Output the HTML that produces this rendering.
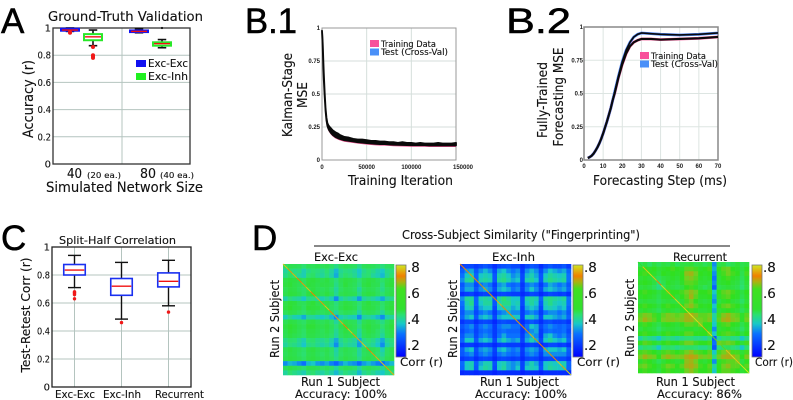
<!DOCTYPE html>
<html>
<head>
<meta charset="utf-8">
<title>Model validation figure</title>
<style>
html,body{margin:0;padding:0;background:#fff;width:793px;height:400px;overflow:hidden}
svg{display:block;filter:blur(.35px)}
text{font-family:"DejaVu Sans","Liberation Sans",sans-serif;fill:#111;stroke:#111;stroke-width:.12}
.big{font-family:"Liberation Sans",sans-serif;font-size:35px;fill:#000;stroke:#000;stroke-width:.5}
.small{font-family:"Liberation Sans",sans-serif;font-size:6px;font-weight:bold;fill:#222;stroke:none}
</style>
</head>
<body>
<svg id="fig" width="793" height="400" viewBox="0 0 793 400" xmlns="http://www.w3.org/2000/svg">
<defs>
<linearGradient id="jet" x1="0" y1="1" x2="0" y2="0">
<stop offset="0" stop-color="#0000ff"/><stop offset=".25" stop-color="#0a70ff"/><stop offset=".36" stop-color="#18c8c8"/>
<stop offset=".46" stop-color="#2be070"/><stop offset=".52" stop-color="#30e030"/><stop offset=".74" stop-color="#40e020"/>
<stop offset=".82" stop-color="#b0b010"/><stop offset=".88" stop-color="#f08000"/><stop offset="1" stop-color="#d0e820"/>
</linearGradient>
</defs>
<g id="layer"></g>

<text class="big" x="1" y="33">A</text>
<text class="big" x="245" y="33" textLength="52" lengthAdjust="spacingAndGlyphs">B.1</text>
<text class="big" x="506" y="33" textLength="65" lengthAdjust="spacingAndGlyphs">B.2</text>
<text class="big" x="1" y="250">C</text>
<text class="big" x="252" y="250">D</text>

<text x="48" y="21" font-size="13" textLength="155" lengthAdjust="spacingAndGlyphs">Ground-Truth Validation</text>
<text x="0" y="0" font-size="14" text-anchor="middle" textLength="78" lengthAdjust="spacingAndGlyphs" transform="translate(33 99) rotate(-90)">Accuracy (r)</text>
<text x="67" y="178" font-size="13" textLength="15" lengthAdjust="spacingAndGlyphs">40</text>
<text x="87" y="178" font-size="8" textLength="34" lengthAdjust="spacingAndGlyphs">(20 ea.)</text>
<text x="140" y="178" font-size="13" textLength="16" lengthAdjust="spacingAndGlyphs">80</text>
<text x="160" y="178" font-size="8" textLength="34" lengthAdjust="spacingAndGlyphs">(40 ea.)</text>
<text x="46" y="192" font-size="14" textLength="157" lengthAdjust="spacingAndGlyphs">Simulated Network Size</text>

<text x="0" y="0" font-size="13" text-anchor="middle" textLength="84" lengthAdjust="spacingAndGlyphs" transform="translate(292 95) rotate(-90)">Kalman-Stage</text>
<text x="0" y="0" font-size="13" text-anchor="middle" textLength="26" lengthAdjust="spacingAndGlyphs" transform="translate(307 95) rotate(-90)">MSE</text>
<text x="348" y="185" font-size="13" textLength="105" lengthAdjust="spacingAndGlyphs">Training Iteration</text>

<text x="0" y="0" font-size="13" text-anchor="middle" textLength="76" lengthAdjust="spacingAndGlyphs" transform="translate(547 100) rotate(-90)">Fully-Trained</text>
<text x="0" y="0" font-size="13" text-anchor="middle" textLength="99" lengthAdjust="spacingAndGlyphs" transform="translate(563 97) rotate(-90)">Forecasting MSE</text>
<text x="593" y="185" font-size="13" textLength="134" lengthAdjust="spacingAndGlyphs">Forecasting Step (ms)</text>

<text x="59" y="244" font-size="11" textLength="117" lengthAdjust="spacingAndGlyphs">Split-Half Correlation</text>
<text x="0" y="0" font-size="12" text-anchor="middle" textLength="115" lengthAdjust="spacingAndGlyphs" transform="translate(30 315) rotate(-90)">Test-Retest Corr (r)</text>

<text x="402" y="239" font-size="12" textLength="238" lengthAdjust="spacingAndGlyphs">Cross-Subject Similarity ("Fingerprinting")</text>
<line x1="314" y1="246" x2="730" y2="246" stroke="#111" stroke-width="1"/>
<text x="314" y="261" font-size="11.5" textLength="44" lengthAdjust="spacingAndGlyphs">Exc-Exc</text>
<text x="492" y="261" font-size="11.5" textLength="43" lengthAdjust="spacingAndGlyphs">Exc-Inh</text>
<text x="673" y="261" font-size="11.5" textLength="54" lengthAdjust="spacingAndGlyphs">Recurrent</text>

<text x="0" y="0" font-size="12" text-anchor="middle" textLength="78" lengthAdjust="spacingAndGlyphs" transform="translate(279 319) rotate(-90)">Run 2 Subject</text>
<text x="0" y="0" font-size="12" text-anchor="middle" textLength="78" lengthAdjust="spacingAndGlyphs" transform="translate(457 319) rotate(-90)">Run 2 Subject</text>
<text x="0" y="0" font-size="12" text-anchor="middle" textLength="78" lengthAdjust="spacingAndGlyphs" transform="translate(634 318) rotate(-90)">Run 2 Subject</text>

<text x="301" y="386" font-size="12" textLength="79" lengthAdjust="spacingAndGlyphs">Run 1 Subject</text>
<text x="480" y="386" font-size="12" textLength="79" lengthAdjust="spacingAndGlyphs">Run 1 Subject</text>
<text x="656" y="386" font-size="12" textLength="79" lengthAdjust="spacingAndGlyphs">Run 1 Subject</text>
<text x="295" y="398" font-size="11.5" textLength="92" lengthAdjust="spacingAndGlyphs">Accuracy: 100%</text>
<text x="475" y="398" font-size="11.5" textLength="92" lengthAdjust="spacingAndGlyphs">Accuracy: 100%</text>
<text x="657" y="398" font-size="11.5" textLength="85" lengthAdjust="spacingAndGlyphs">Accuracy: 86%</text>
<text x="400" y="366" font-size="11.5" textLength="43" lengthAdjust="spacingAndGlyphs">Corr (r)</text>
<text x="577" y="366" font-size="11.5" textLength="43" lengthAdjust="spacingAndGlyphs">Corr (r)</text>
<text x="755" y="366" font-size="11.5" textLength="38" lengthAdjust="spacingAndGlyphs">Corr (r)</text>
</svg>

<script>
/* ---------- Panel A data ---------- */
const aTicks = [0, 0.2, 0.4, 0.6, 0.8, 1];
const aGroups = [0, 0, 1, 1];
const aSeries = [0, 1, 0, 1];
const aQ1 = [0.98, 0.91, 0.97, 0.87];
const aQ3 = [0.995, 0.955, 0.982, 0.895];
const aMedian = [0.985, 0.935, 0.975, 0.885];
const aWhiskerLow = [0.975, 0.87, 0.965, 0.855];
const aWhiskerHigh = [1, 0.985, 0.995, 0.915];
const aOutliers = [[0.965, 0.97], [0.86, 0.80, 0.79, 0.78], [], []];
const aLegend = ["Exc-Exc", "Exc-Inh"];

/* ---------- Panel B.1 data ---------- */
const b1XTicks = [0, 50000, 100000, 150000];
const b1YTicks = [0, 0.25, 0.5, 0.75, 1];
const b1Iter = [0,500,1000,1500,2000,3000,4000,5000,6000,7000,8000,10000,12000,15000,18000,20000,25000,30000,35000,40000,45000,50000,55000,60000,65000,70000,75000,80000,85000,90000,95000,100000,105000,110000,115000,120000,125000,130000,135000,140000,145000,150000];
const b1Upper = [.98,.93,.85,.75,.66,.51,.39,.32,.28,.265,.255,.24,.225,.21,.2,.19,.175,.17,.16,.155,.155,.15,.145,.145,.14,.14,.135,.135,.13,.135,.13,.13,.125,.13,.125,.125,.125,.13,.125,.125,.125,.13];
const b1Lower = [.97,.9,.81,.71,.61,.48,.37,.3,.26,.24,.225,.205,.19,.175,.165,.16,.15,.145,.14,.135,.132,.128,.125,.122,.12,.12,.118,.116,.115,.114,.113,.112,.112,.112,.112,.11,.11,.11,.11,.11,.11,.11];

/* ---------- Panel B.2 data ---------- */
const b2XTicks = [0, 10, 20, 30, 40, 50, 60, 70];
const b2YTicks = [0, 0.25, 0.5, 0.75, 1];
const b2Step = [2,3,4,5,6,7,8,9,10,12,14,15,16,18,20,22,24,25,26,28,30,35,40,50,60,70];
const b2Train = [.015,.022,.032,.048,.07,.095,.125,.16,.2,.29,.39,.45,.5,.62,.72,.8,.855,.87,.885,.9,.91,.91,.905,.91,.915,.925];
const b2Test = [.015,.022,.032,.048,.07,.095,.125,.16,.2,.29,.39,.45,.51,.63,.74,.825,.885,.905,.925,.945,.955,.95,.945,.94,.945,.955];
const b2Legend = ["Training Data", "Test (Cross-Val)"];

/* ---------- Panel C data ---------- */
const cTicks = [0, 0.2, 0.4, 0.6, 0.8, 1];
const cCategories = ["Exc-Exc", "Exc-Inh", "Recurrent"];
const cQ1 = [0.80, 0.655, 0.715];
const cQ3 = [0.875, 0.775, 0.815];
const cMedian = [0.835, 0.72, 0.755];
const cWhiskerLow = [0.71, 0.485, 0.58];
const cWhiskerHigh = [0.94, 0.89, 0.905];
const cOutliers = [[0.68, 0.675, 0.67, 0.66, 0.63], [0.46], [0.535]];

/* ---------- Panel D data (correlation x 100) ---------- */
const colorbarTicks = [0.2, 0.4, 0.6, 0.8];
const excExcDiagonal = [78,74,76,72,74,78,72,76,74,78,72,74,76,72,78,74,76,78,72,74,76,78,74,76];
const excInhDiagonal = [72,70,74,72,68,74,70,72,76,70,72,68,74,72,70,76,68,72,74,70,72,78,74,80];
const recurrentDiagonal = [54,78,80,78,72,80,78,76,80,78,80,82,80,78,76,80,60,62,60,78,80,78,80,82];
const excExcMatrix = [
[44,48,47,46,42,47,46,48,46,47,44,40,45,47,46,45,40,46,47,46,44,41,45,46],
[38,42,40,41,36,40,42,41,39,42,38,33,39,41,40,38,34,40,42,40,37,34,40,41],
[40,44,42,38,36,42,44,40,38,41,37,32,40,43,41,39,35,41,42,38,36,33,39,42],
[49,51,50,48,45,50,51,49,48,50,46,41,47,50,49,47,42,48,50,49,46,43,48,50],
[50,52,49,47,45,51,50,48,49,49,47,40,46,51,48,46,41,49,51,48,47,41,49,51],
[47,50,49,46,44,48,50,47,46,48,44,38,45,48,47,45,38,46,48,47,44,40,46,48],
[48,51,50,48,44,50,51,49,47,50,46,39,47,49,48,47,40,48,50,49,45,42,47,49],
[37,41,39,38,34,40,41,38,36,39,36,30,37,40,38,36,31,38,40,38,35,32,38,40],
[49,52,51,47,46,50,52,48,48,49,46,41,47,50,49,47,42,48,51,48,47,43,48,50],
[50,53,50,49,45,52,51,50,47,50,45,42,48,51,50,48,41,49,50,49,46,42,49,51],
[46,49,48,45,42,47,49,46,45,47,44,38,44,47,46,44,37,45,47,46,43,38,45,47],
[35,39,36,35,32,38,38,36,34,37,33,30,36,38,36,35,30,37,38,36,33,30,36,38],
[47,50,49,46,44,49,50,47,46,48,44,38,45,49,47,46,39,47,49,47,44,40,46,49],
[50,53,51,48,46,52,52,49,48,50,46,41,48,51,49,47,41,49,51,48,47,42,48,51],
[48,52,50,47,44,50,50,48,46,49,45,39,46,50,48,46,38,47,50,48,44,40,47,49],
[47,50,48,46,43,49,49,47,46,47,43,38,45,48,47,45,37,46,48,46,43,38,46,48],
[40,43,42,39,36,42,43,40,39,41,37,32,39,42,40,38,32,40,42,40,36,32,39,41],
[38,41,40,38,34,40,41,39,37,39,35,30,37,40,38,37,31,38,40,38,34,30,37,40],
[47,50,48,46,43,49,50,47,46,48,44,37,45,48,46,45,38,46,48,47,44,36,45,48],
[46,49,48,45,42,48,49,46,44,47,43,38,44,47,46,44,38,45,47,46,42,38,45,47],
[48,50,49,47,44,49,50,48,46,48,45,40,46,49,47,46,40,47,49,47,45,41,47,49],
[30,33,32,30,28,33,34,31,30,32,29,26,30,33,31,30,27,31,33,31,29,27,31,33],
[46,49,47,45,42,48,48,46,44,46,43,38,44,47,46,44,38,45,47,45,43,39,45,47],
[38,42,40,38,36,41,42,39,37,40,37,33,38,41,39,38,33,39,41,39,36,34,39,41]
];
const excInhMatrix = [
[20,22,22,20,22,24,22,18,22,23,24,22,22,18,22,24,23,18,22,24,22,22,24,20],
[25,30,32,24,30,33,30,22,32,34,30,28,30,20,30,33,30,22,30,34,32,30,32,26],
[28,34,36,26,34,36,34,24,36,38,34,30,32,22,33,36,32,24,34,38,36,34,36,28],
[30,38,40,26,36,38,36,24,38,40,36,32,34,22,36,38,34,24,36,40,38,36,38,28],
[24,30,30,22,28,30,28,20,30,32,28,26,28,19,28,30,28,20,28,32,30,28,30,24],
[26,32,32,24,30,32,30,22,32,34,32,28,30,20,30,34,30,22,32,34,32,30,32,26],
[18,20,21,18,20,21,20,17,21,22,21,20,20,17,20,22,21,17,20,22,21,20,21,18],
[30,38,38,26,36,38,36,24,38,42,38,34,34,22,36,38,36,26,38,40,38,36,38,28],
[28,36,40,26,34,38,38,24,36,40,40,34,36,22,34,38,34,24,36,40,36,34,36,28],
[26,34,36,24,32,34,34,22,34,36,36,32,34,20,32,34,32,22,34,36,34,32,34,26],
[24,30,30,22,28,30,28,20,28,30,32,30,30,20,28,30,28,20,28,30,30,28,30,24],
[26,32,34,24,32,34,32,22,32,34,34,34,34,20,34,36,32,22,34,34,32,30,32,26],
[19,22,22,18,21,22,21,17,22,23,22,22,22,17,22,24,22,18,22,23,21,21,22,19],
[24,28,30,22,28,30,28,20,28,30,30,28,28,20,28,34,32,22,28,30,28,26,28,24],
[22,26,28,21,26,28,26,20,26,28,26,26,26,19,26,30,32,20,26,28,26,26,28,22],
[24,30,30,22,28,30,28,20,28,32,28,28,28,20,30,32,30,20,32,34,30,28,30,24],
[26,34,34,24,32,34,32,22,32,36,32,30,32,21,32,36,32,22,34,38,34,32,34,26],
[18,20,20,18,20,21,20,17,20,21,20,20,20,17,20,21,20,17,20,22,22,20,21,18],
[25,32,34,23,30,32,30,21,32,34,30,28,30,20,30,32,30,22,32,34,34,32,34,25],
[24,28,30,22,28,30,28,20,28,30,28,26,28,19,28,30,28,20,30,30,30,30,30,24],
[19,21,22,18,21,22,21,17,21,22,21,20,21,17,21,22,21,18,21,22,22,22,22,19],
[27,34,36,25,32,36,36,23,34,36,32,30,32,21,32,36,32,23,34,36,34,34,36,26],
[26,34,36,24,34,38,36,22,34,38,32,30,34,21,34,36,34,24,34,38,36,34,36,26],
[17,18,18,17,18,18,18,16,18,18,18,18,18,16,18,18,18,16,18,18,18,18,18,17]
];
const recurrentMatrix = [
[46,50,44,50,46,50,48,52,46,50,50,52,48,50,46,50,30,48,50,44,48,52,48,50],
[54,56,54,56,52,54,56,58,56,54,60,60,58,54,56,58,32,56,60,62,56,54,50,56],
[56,58,56,54,50,56,54,56,54,56,64,65,62,56,54,56,30,54,58,62,58,56,48,58],
[52,54,52,50,46,50,52,54,52,56,62,63,60,54,52,54,28,52,56,58,54,52,46,54],
[54,56,54,50,42,48,54,52,50,54,60,60,58,52,52,50,30,52,54,56,52,50,44,52],
[50,52,50,46,40,46,52,50,48,50,56,58,54,50,46,50,26,48,50,52,50,48,42,50],
[56,58,56,54,50,54,58,56,56,58,62,64,62,56,56,58,34,56,60,62,58,54,50,56],
[54,56,54,52,48,54,54,56,52,56,60,65,60,54,54,56,32,54,58,60,56,54,48,54],
[50,52,50,50,46,50,52,50,50,52,58,62,56,52,50,52,30,50,54,56,52,50,44,52],
[56,58,56,54,50,56,58,56,54,56,62,64,60,56,54,56,34,56,60,62,58,56,50,56],
[52,54,52,50,46,52,54,52,50,54,56,58,54,52,52,54,32,52,54,56,54,52,46,52],
[60,63,62,58,54,60,63,62,60,62,65,66,64,60,60,62,38,58,63,65,62,60,54,60],
[62,65,63,60,54,62,63,63,62,63,65,65,62,62,60,63,36,60,65,66,63,62,54,62],
[54,58,56,52,48,54,56,54,52,56,60,60,58,62,56,56,34,54,58,60,56,54,48,54],
[50,54,52,50,44,50,52,52,50,52,54,54,52,54,56,54,30,52,54,56,52,50,44,52],
[56,58,56,54,50,56,58,56,54,56,60,60,56,56,56,60,34,56,58,60,58,56,50,56],
[38,42,40,38,34,40,42,40,38,40,42,42,40,40,38,42,24,38,42,44,40,40,34,40],
[56,60,58,54,50,56,58,56,56,58,62,62,58,56,56,58,28,62,60,62,60,56,52,58],
[40,44,42,40,34,42,44,42,40,42,44,44,42,40,40,44,24,40,44,46,42,40,34,42],
[58,60,58,56,52,58,60,58,56,58,62,64,60,58,56,60,34,58,62,64,58,58,52,58],
[62,65,63,62,56,63,65,63,62,63,66,67,66,63,62,63,40,62,65,66,65,62,56,63],
[54,58,56,52,46,52,56,54,52,54,64,65,62,54,52,56,30,54,58,60,60,62,50,56],
[60,62,58,56,52,58,62,60,56,60,65,66,64,58,56,60,38,56,62,64,60,60,54,60],
[56,58,56,54,50,56,58,56,54,56,62,64,60,56,56,58,34,56,60,60,58,56,52,56]
];

/* ---------- Helpers ---------- */
const NS = "http://www.w3.org/2000/svg";
const layer = document.getElementById("layer");
function mk(tag, attrs, txt) {
  const el = document.createElementNS(NS, tag);
  for (const k in attrs) el.setAttribute(k, attrs[k]);
  if (txt !== undefined) el.textContent = txt;
  layer.appendChild(el);
  
  return el;
}
const GRID = "#b4c4bf";

/* Axis functions */
const yA = v => 164 - 136 * v;
const xA = (g, s) => 70 + g * 69 + s * 23;
const xB1 = v => 322 + v * 134 / 150000;
const yB1 = v => 160 - 132 * v;
const xB2 = v => 584 + v * 134 / 70;
const yB2 = v => 160 - 133 * v;
const yC = v => 387 - 140 * v;
const xC = i => 74.5 + 47 * i;
const yBar = v => 345 - (v - 0.2) * 130;

const colorValues = [.11,.28,.34,.42,.56,.62,.67,.72,.81];
const colorRGB = [[0,0,255],[10,112,255],[24,200,200],[43,224,112],[48,224,32],[112,208,32],[192,160,16],[240,128,0],[208,232,32]];
function corrColor(v) {
  if (v <= colorValues[0]) return "rgb(0,0,255)";
  for (let i = 1; i < colorValues.length; i++) {
    if (v <= colorValues[i]) {
      const t = (v - colorValues[i-1]) / (colorValues[i] - colorValues[i-1]);
      const c = colorRGB[i].map((q, k) => Math.round(colorRGB[i-1][k] + (q - colorRGB[i-1][k]) * t));
      return "rgb(" + c.join(",") + ")";
    }
  }
  return "rgb(208,232,32)";
}

function drawBox(x, w, cap, q1, q3, med, lo, hi, outs, color, fy, sw, boxSw, dotR) {
  const wu = mk("line", {x1:x, x2:x, y1:fy(q3), y2:fy(hi), stroke:"#111", "stroke-width":sw});
  
  const wd = mk("line", {x1:x, x2:x, y1:fy(q1), y2:fy(lo), stroke:"#111", "stroke-width":sw});
  
  const cu = mk("line", {x1:x-cap/2, x2:x+cap/2, y1:fy(hi), y2:fy(hi), stroke:"#111", "stroke-width":sw});
  
  const cd = mk("line", {x1:x-cap/2, x2:x+cap/2, y1:fy(lo), y2:fy(lo), stroke:"#111", "stroke-width":sw});
  
  const b = mk("rect", {x:x-w/2, y:fy(q3), width:w, height:Math.max(fy(q1)-fy(q3),1), fill:"#fff", stroke:color, "stroke-width":boxSw});
  
  const m = mk("line", {x1:x-w/2+1, x2:x+w/2-1, y1:fy(med), y2:fy(med), stroke:"#f01010", "stroke-width":1.4});
  
  outs.forEach(o => {
    const c = mk("circle", {cx:x, cy:fy(o), r:dotR, fill:"#f01818"});
    
  });
}

/* ---------- Panel A ---------- */
aTicks.slice(1, -1).forEach(t => {
  const g = mk("line", {x1:53, x2:190, y1:yA(t), y2:yA(t), stroke:GRID, "stroke-width":1});
  
});
const aMid = mk("line", {x1:122, x2:122, y1:28, y2:164, stroke:GRID, "stroke-width":1});

const aFrame = mk("rect", {x:53, y:28, width:137, height:136, fill:"none", stroke:"#333", "stroke-width":1.3});

aTicks.forEach(t => {
  const label = String(t);
  const attrs = {x:51, y:yA(t)+3.5, "font-size":10, "text-anchor":"end"};
  if (label.length > 1) { attrs.textLength = 13.5; attrs.lengthAdjust = "spacingAndGlyphs"; }
  const l = mk("text", attrs, label);
  
});
aQ1.forEach((q, i) => {
  const col = aSeries[i] === 0 ? "#1414f0" : "#28e828";
  drawBox(xA(aGroups[i], aSeries[i]), 18, 8.5, q, aQ3[i], aMedian[i], aWhiskerLow[i], aWhiskerHigh[i], aOutliers[i], col, yA, 1.6, 2, 2);
});
const aTopDot = mk("circle", {cx:xA(1, 1), cy:yA(1), r:1.1, fill:"#111"});

aLegend.forEach((name, i) => {
  const sw = mk("rect", {x:136, y:60+i*13, width:10, height:7, fill:i===0?"#1010f0":"#20f020"});
  
  const tx = mk("text", {x:148, y:67+i*13, "font-size":10.5, textLength:40, lengthAdjust:"spacingAndGlyphs"}, name);
  
});

/* ---------- Panel B.1 ---------- */
b1XTicks.forEach(t => {
  const g = mk("line", {x1:xB1(t), x2:xB1(t), y1:28, y2:160, stroke:"#d5dedb", "stroke-width":1});
  
  const l = mk("text", {x:xB1(t)+(t===150000?7:0), y:169, "text-anchor":"middle", class:"small"}, String(t));
  
});
b1YTicks.forEach(t => {
  const g = mk("line", {x1:322, x2:456, y1:yB1(t), y2:yB1(t), stroke:"#d5dedb", "stroke-width":1});
  
  const l = mk("text", {x:320, y:yB1(t)+2, "text-anchor":"end", class:"small"}, String(t));
  
});
const b1Frame = mk("rect", {x:322, y:28, width:134, height:132, fill:"none", stroke:"#999", "stroke-width":1});

const b1Base = mk("polyline", {points:b1Iter.map((v,i)=>xB1(v)+","+(yB1(b1Lower[i])+1)).join(" "), fill:"none", stroke:"#f05090", "stroke-width":1});

const b1Band = mk("polygon", {points:b1Iter.map((v,i)=>xB1(v)+","+yB1(b1Upper[i])).concat(b1Iter.map((v,i)=>xB1(v)+","+yB1(b1Lower[i])).reverse()).join(" "), fill:"#0a0a0a", stroke:"#0a0a0a", "stroke-width":1.8, "stroke-linejoin":"round"});

b2Legend.forEach((name, i) => {
  const sw = mk("rect", {x:370, y:40+i*8.5, width:9, height:7, fill:i===0?"#f8509a":"#4a90f8"});
  
  const tx = mk("text", {x:381, y:47+i*8, "font-size":9, textLength:i===0?55:67, lengthAdjust:"spacingAndGlyphs"}, name);
  
});

/* ---------- Panel B.2 ---------- */
b2XTicks.forEach(t => {
  const g = mk("line", {x1:xB2(t), x2:xB2(t), y1:27, y2:160, stroke:"#dde5e2", "stroke-width":1});
  
  const l = mk("text", {x:xB2(t), y:168, "text-anchor":"middle", class:"small"}, String(t));
  
});
b2YTicks.forEach(t => {
  const g = mk("line", {x1:584, x2:718, y1:yB2(t), y2:yB2(t), stroke:"#dde5e2", "stroke-width":1});
  
  const l = mk("text", {x:583, y:yB2(t)+2, "text-anchor":"end", class:"small"}, String(t));
  
});
const b2Frame = mk("rect", {x:584, y:27, width:134, height:133, fill:"none", stroke:"#888", "stroke-width":1.5});

const b2TrainPts = b2Step.map((v,i)=>xB2(v)+","+yB2(b2Train[i])).join(" ");
const b2TestPts = b2Step.map((v,i)=>xB2(v)+","+yB2(b2Test[i])).join(" ");
const b2TrainGlow = mk("polyline", {points:b2TrainPts, fill:"none", stroke:"#f05090", "stroke-width":2.8});

const b2TestGlow = mk("polyline", {points:b2TestPts, fill:"none", stroke:"#4a80f0", "stroke-width":2.8});

const b2TrainLine = mk("polyline", {points:b2TrainPts, fill:"none", stroke:"#0a0a0a", "stroke-width":2.1, "stroke-linejoin":"round"});

const b2TestLine = mk("polyline", {points:b2TestPts, fill:"none", stroke:"#0a0a0a", "stroke-width":1.6, "stroke-linejoin":"round"});

b2Legend.forEach((name, i) => {
  const sw = mk("rect", {x:640, y:52+i*8.5, width:9, height:7, fill:i===0?"#f8509a":"#4a90f8"});
  
  const tx = mk("text", {x:651, y:59+i*8, "font-size":9, textLength:i===0?55:67, lengthAdjust:"spacingAndGlyphs"}, name);
  
});

/* ---------- Panel C ---------- */
cTicks.slice(1, -1).forEach(t => {
  const g = mk("line", {x1:52, x2:191, y1:yC(t), y2:yC(t), stroke:GRID, "stroke-width":1});
  
});
cCategories.forEach((name, i) => {
  const g = mk("line", {x1:xC(i), x2:xC(i), y1:247, y2:387, stroke:GRID, "stroke-width":1});
  
});
const cFrame = mk("rect", {x:52, y:247, width:139, height:140, fill:"none", stroke:"#222", "stroke-width":1.3});

cTicks.forEach(t => {
  const label = String(t);
  const attrs = {x:50, y:yC(t)+3.5, "font-size":10, "text-anchor":"end"};
  if (label.length > 1) { attrs.textLength = 13; attrs.lengthAdjust = "spacingAndGlyphs"; }
  const l = mk("text", attrs, label);
  
});
cCategories.forEach((name, i) => {
  drawBox(xC(i), 21.5, 13, cQ1[i], cQ3[i], cMedian[i], cWhiskerLow[i], cWhiskerHigh[i], cOutliers[i], "#1a30f0", yC, 1.4, 1.6, 1.7);
  const l = mk("text", {x:[75,122,179.5][i], y:398, "font-size":10.5, "text-anchor":"middle", textLength:[40,38,49][i], lengthAdjust:"spacingAndGlyphs"}, name);
  
});

/* ---------- Panel D ---------- */
function drawHeatmap(matrix, diag, x0, y0, size, barX, name) {
  const n = matrix.length;
  const c = size / n;
  matrix.forEach((row, r) => {
    row.forEach((val, k) => {
      const cell = mk("rect", {x:x0+k*c, y:y0+r*c, width:c+0.3, height:c+0.3, fill:corrColor(val/100)});
      
    });
  });
  diag.forEach((val, i) => {
    const seg = mk("line", {x1:x0+i*c, y1:y0+i*c, x2:x0+(i+1)*c, y2:y0+(i+1)*c, stroke:corrColor(val/100), "stroke-width":1});
    
  });
  const bar = mk("rect", {x:barX, y:265, width:10, height:92, fill:"url(#jet)", stroke:"#777", "stroke-width":0.8});
  
  colorbarTicks.forEach(t => {
    const l = mk("text", {x:barX+11, y:yBar(t)+5, "font-size":13.5}, "." + Math.round(t*10));
    
  });
}
drawHeatmap(excExcMatrix, excExcDiagonal, 283, 264, 111, 396, 'exc-exc-heatmap');
drawHeatmap(excInhMatrix, excInhDiagonal, 460, 264, 111, 573, 'exc-inh-heatmap');
drawHeatmap(recurrentMatrix, recurrentDiagonal, 638, 262, 111, 752, 'recurrent-heatmap');
</script>
</body>
</html>
